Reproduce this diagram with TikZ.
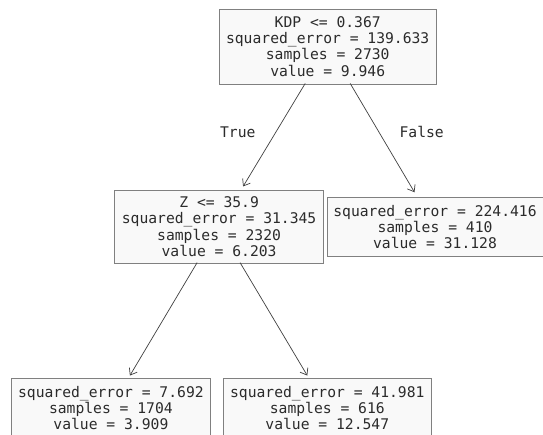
\documentclass[tikz,border=0pt]{standalone}
\usepackage{fontspec}
\newfontfamily\treemono{DejaVu Sans Mono}
\usepackage{tikz}
\usetikzlibrary{positioning, arrows, arrows.meta, shapes}
\definecolor{boxfill}{HTML}{F9F9F9}
\definecolor{boxline}{HTML}{808080}
\definecolor{inkdark}{HTML}{2B2B2B}
\tikzstyle{treebox} = [draw=boxline, fill=boxfill, rectangle, line width=0.9pt, inner sep=0pt, align=center, text=inkdark, font=\treemono\fontsize{14.68}{16.3}\selectfont]
\tikzstyle{treeedge} = [-{Straight Barb[length=6pt, width=9pt]}, draw=inkdark!90, line width=0.7pt]
\tikzstyle{edgelabel} = [text=inkdark, font=\treemono\fontsize{14.68}{16.3}\selectfont]

\begin{document}
\begin{tikzpicture}[x=1pt, y=-1pt]
  \useasboundingbox (0,0) rectangle (543,434);
  \clip (0,0) rectangle (543,434);
  \fill[white] (0,0) rectangle (543,434);

  % root split
  \node[treebox, minimum width=217pt, minimum height=75pt] (root) at (327.7,46.5)
    {KDP <= 0.367\\squared\_error = 139.633\\samples = 2730\\value = 9.946};
  % second level
  \node[treebox, minimum width=208.5pt, minimum height=73pt] (zsplit) at (219.1,226.7)
    {Z <= 35.9\\squared\_error = 31.345\\samples = 2320\\value = 6.203};
  \node[treebox, minimum width=216pt, minimum height=59.4pt] (leafhigh) at (435,227)
    {squared\_error = 224.416\\samples = 410\\value = 31.128};
  % leaves
  \node[treebox, minimum width=198.3pt, minimum height=59.4pt] (leaflow) at (110.9,408)
    {squared\_error = 7.692\\samples = 1704\\value = 3.909};
  \node[treebox, minimum width=208.5pt, minimum height=59.4pt] (leafmid) at (327.3,408)
    {squared\_error = 41.981\\samples = 616\\value = 12.547};

  \draw[treeedge] ([xshift=-22.5pt, yshift=1pt]root.south) -- ([xshift=24pt, yshift=3.3pt]zsplit.north);
  \draw[treeedge] ([xshift=22.5pt, yshift=1pt]root.south) -- ([xshift=-20.5pt, yshift=4.6pt]leafhigh.north);
  \draw[treeedge] ([xshift=-22pt, yshift=1pt]zsplit.south) -- ([xshift=19pt, yshift=2.3pt]leaflow.north);
  \draw[treeedge] ([xshift=21pt, yshift=1pt]zsplit.south) -- ([xshift=-20pt, yshift=2.3pt]leafmid.north);

  \node[edgelabel] (lbltrue) at (237.8,132) {True};
  \node[edgelabel] (lblfalse) at (421.7,132) {False};
\end{tikzpicture}
\end{document}
